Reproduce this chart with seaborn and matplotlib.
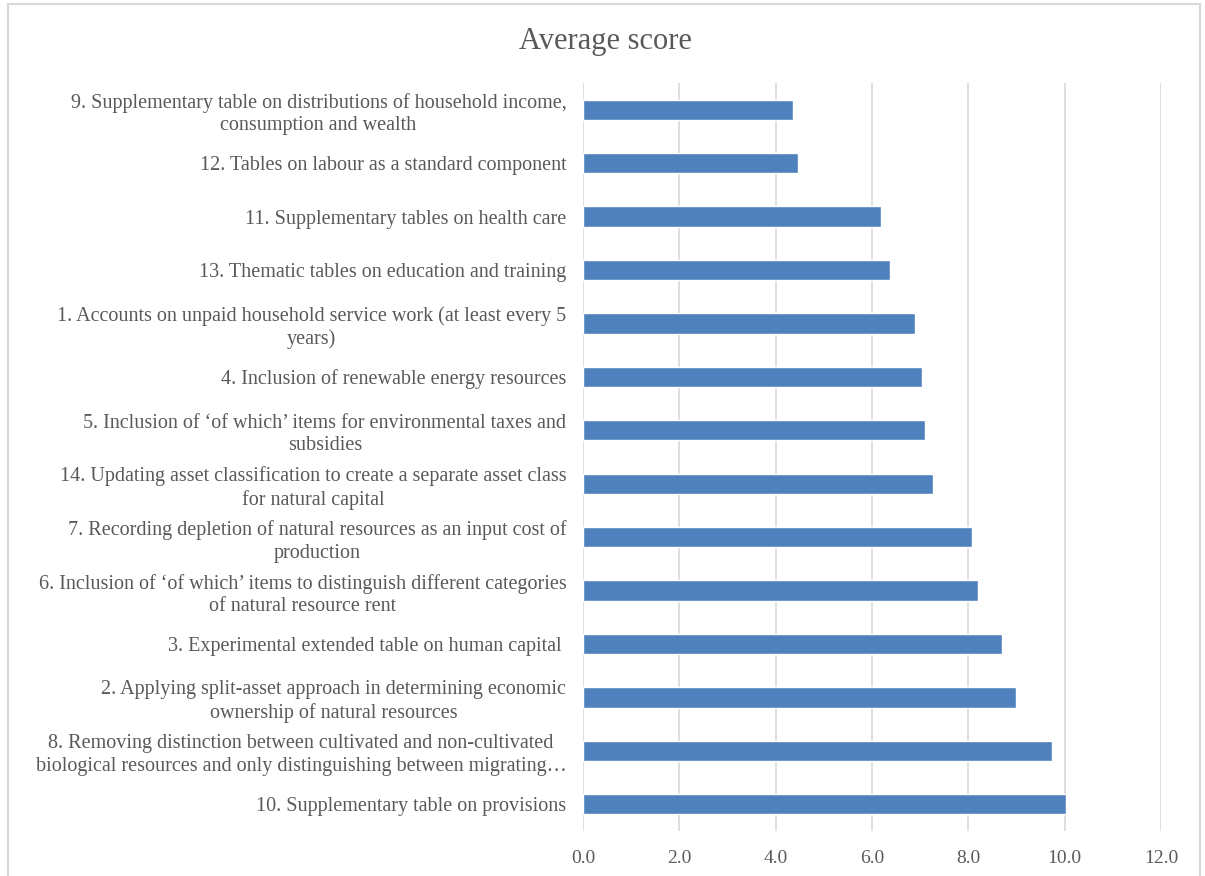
import matplotlib
matplotlib.use("Agg")
import matplotlib.pyplot as plt
import seaborn as sns
import pandas as pd
from matplotlib.patches import Rectangle

categories = [
    "9. Supplementary table on distributions of household income,\nconsumption and wealth",
    "12. Tables on labour as a standard component",
    "11. Supplementary tables on health care",
    "13. Thematic tables on education and training",
    "1. Accounts on unpaid household service work (at least every 5\nyears)",
    "4. Inclusion of renewable energy resources",
    "5. Inclusion of \u2018of which\u2019 items for environmental taxes and\nsubsidies",
    "14. Updating asset classification to create a separate asset class\nfor natural capital",
    "7. Recording depletion of natural resources as an input cost of\nproduction",
    "6. Inclusion of \u2018of which\u2019 items to distinguish different categories\nof natural resource rent",
    "3. Experimental extended table on human capital ",
    "2. Applying split-asset approach in determining economic\nownership of natural resources",
    "8. Removing distinction between cultivated and non-cultivated\nbiological resources and only distinguishing between migrating\u2026",
    "10. Supplementary table on provisions",
]
scores = [4.35, 4.46, 6.19, 6.38, 6.89, 7.03, 7.11, 7.26, 8.08, 8.20, 8.69, 8.99, 9.74, 10.02]
x_ticks = [0, 2, 4, 6, 8, 10, 12]
title = "Average score"

df = pd.DataFrame({"category": categories, "score": scores})

sns.set_theme(style="white")
plt.rcParams["font.family"] = ["Liberation Serif", "DejaVu Serif"]

fig = plt.figure(figsize=(12.05, 8.76), dpi=100)
ax = fig.add_axes([583 / 1205, 1 - 831 / 876, (1161 - 583) / 1205, (831 - 83) / 876])

sns.barplot(data=df, x="score", y="category", orient="h", color="#4F81BD",
            width=0.38, ax=ax, saturation=1, zorder=3)

ax.set_xlim(0, 12)
ax.set_xticks(x_ticks)
ax.set_xticklabels([f"{t:.1f}" for t in x_ticks], fontsize=14, color="#595959")
ax.set_xlabel("")
ax.set_ylabel("")
ax.tick_params(axis="both", length=0)
ax.tick_params(axis="x", pad=14)
ax.tick_params(axis="y", pad=12)
for lbl in ax.get_yticklabels():
    lbl.set_fontsize(14.5)
    lbl.set_color("#595959")
    lbl.set_multialignment("center")
    lbl.set_linespacing(1.25)

ax.grid(axis="x", color="#D9D9D9", linewidth=1.2, zorder=0)
ax.grid(axis="y", visible=False)
for s in ax.spines.values():
    s.set_visible(False)

fig.text(605 / 1205, 1 - 42 / 876, title, ha="center", va="center",
         fontsize=22, color="#595959")

fig.patches.append(Rectangle((8 / 1205, -0.01), (1200 - 8) / 1205, 1.01 - 4 / 876,
                             transform=fig.transFigure, fill=False,
                             edgecolor="#D9D9D9", linewidth=1.5))

fig.savefig("out.png", dpi=100)
